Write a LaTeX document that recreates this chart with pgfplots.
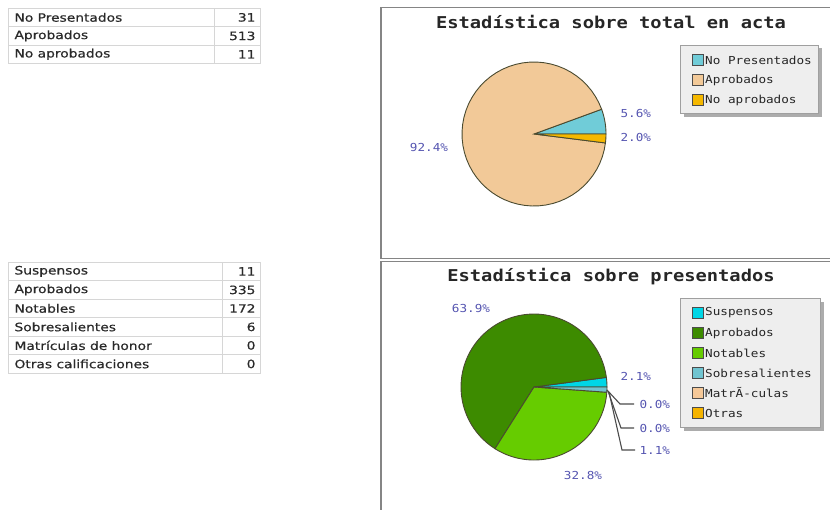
\documentclass[border=0pt]{standalone}
\usepackage{pgfplots}
\pgfplotsset{compat=1.18}
\usepackage{pgfplotstable}
\usepackage{fontspec}
\setmainfont{DejaVu Sans}
\newfontfamily\tabfont{DejaVu Sans}[FakeStretch=1.2, FakeBold=0.6]
\newfontfamily\chartmono{DejaVu Sans Mono}[FakeStretch=1.15]

\definecolor{cNP}{HTML}{70CCD8}
\definecolor{cAP}{HTML}{F2C998}
\definecolor{cNA}{HTML}{F5B800}
\definecolor{cSU}{HTML}{00D6E6}
\definecolor{cAPB}{HTML}{3D8B00}
\definecolor{cNO}{HTML}{66CC00}
\definecolor{cSO}{HTML}{70C4D0}
\definecolor{cMH}{HTML}{F5C898}
\definecolor{cOT}{HTML}{F5B400}
\definecolor{lbl}{HTML}{5454B0}
\definecolor{framec}{HTML}{858585}
\definecolor{tabline}{HTML}{D6D6D6}
\definecolor{tabtext}{HTML}{2A2A2A}
\definecolor{pieedge}{HTML}{4A4A30}

\pgfplotstableread{
cat value
NoPresentados 31
Aprobados 513
NoAprobados 11
}\totaltable
\pgfplotstableread{
cat value
Suspensos 11
Aprobados 335
Notables 172
Sobresalientes 6
Matriculas 0
Otras 0
}\prestable

\newcommand\pieWedge[4]{%
  \addplot[fill=#1, draw=pieedge, line width=0.9pt, domain=#2:#3, samples=60, variable=\t]
    ({#4*cos(\t)},{#4*sin(\t)}) -- (axis cs:0,0) -- cycle;}

\begin{document}
\begin{tikzpicture}
% ---- data to angles
\pgfplotstablegetelem{0}{value}\of\totaltable \let\tA\pgfplotsretval
\pgfplotstablegetelem{1}{value}\of\totaltable \let\tB\pgfplotsretval
\pgfplotstablegetelem{2}{value}\of\totaltable \let\tC\pgfplotsretval
\pgfmathsetmacro\tT{\tA+\tB+\tC}
\pgfmathsetmacro\taA{(\tA/\tT)*360}
\pgfmathsetmacro\taB{\taA+(\tB/\tT)*360}
\pgfplotstablegetelem{0}{value}\of\prestable \let\pA\pgfplotsretval
\pgfplotstablegetelem{1}{value}\of\prestable \let\pB\pgfplotsretval
\pgfplotstablegetelem{2}{value}\of\prestable \let\pC\pgfplotsretval
\pgfplotstablegetelem{3}{value}\of\prestable \let\pD\pgfplotsretval
\pgfmathsetmacro\pT{\pA+\pB+\pC+\pD}
\pgfmathsetmacro\paA{(\pA/\pT)*360}
\pgfmathsetmacro\paB{\paA+(\pB/\pT)*360}
\pgfmathsetmacro\paC{\paB+(\pC/\pT)*360}

\begin{scope}[x=1pt,y=-1pt]
\path[use as bounding box] (0,0) rectangle (830,509);
% ---- tables
\begin{scope}[font=\tabfont\fontsize{11.5}{13}\selectfont, text=tabtext]
\draw[tabline, line width=0.7pt] (8,8) rectangle (260,63);
\draw[tabline, line width=0.7pt] (8,26.5) -- (260,26.5) (8,45) -- (260,45) (214,8) -- (214,63);
\node[anchor=west] at (11,17.4) {No Presentados};
\node[anchor=east] at (259,17.4) {31};
\node[anchor=west] at (11,35.9) {Aprobados};
\node[anchor=east] at (259,35.9) {513};
\node[anchor=west] at (11,54.3) {No aprobados};
\node[anchor=east] at (259,54.3) {11};

\draw[tabline, line width=0.7pt] (8,262) rectangle (260,373);
\foreach \yy in {280.5,299,317.5,336,354.5} \draw[tabline, line width=0.7pt] (8,\yy) -- (260,\yy);
\draw[tabline, line width=0.7pt] (222,262) -- (222,373);
\node[anchor=west] at (11,271.4) {Suspensos};
\node[anchor=east] at (259,271.4) {11};
\node[anchor=west] at (11,289.9) {Aprobados};
\node[anchor=east] at (259,289.9) {335};
\node[anchor=west] at (11,308.4) {Notables};
\node[anchor=east] at (259,308.4) {172};
\node[anchor=west] at (11,326.9) {Sobresalientes};
\node[anchor=east] at (259,326.9) {6};
\node[anchor=west] at (11,345.4) {Matrículas de honor};
\node[anchor=east] at (259,345.4) {0};
\node[anchor=west] at (11,363.9) {Otras calificaciones};
\node[anchor=east] at (259,363.9) {0};
\end{scope}
% ---- frames
\draw[framec, line width=1.8pt] (381,7.5) rectangle (845,258.5);
\draw[framec, line width=1.8pt] (381,261.5) rectangle (845,530);
% ---- titles
\node[font=\chartmono\bfseries\fontsize{16.3}{18}\selectfont, text=black!85] at (611,22) {Estadística sobre total en acta};
\node[font=\chartmono\bfseries\fontsize{16.3}{18}\selectfont, text=black!85] at (611,277) {Estadística sobre presentados};
% ---- legend 1
\fill[gray!65] (684,48) rectangle (822,117);
\filldraw[fill=gray!13, draw=gray!75, line width=1pt] (680,45) rectangle (818,113);
\begin{scope}[font=\chartmono\fontsize{11}{13}\selectfont, text=black!85]
\foreach \c/\yy/\tx in {cNP/60/No Presentados, cAP/80/Aprobados, cNA/100/No aprobados}{
  \filldraw[fill=\c, draw=black!70, line width=0.8pt] (692,\yy-5.5) rectangle (703,\yy+5.5);
  \node[anchor=west, inner sep=0pt] at (705,\yy) {\tx};
}
\end{scope}
% ---- legend 2
\fill[gray!65] (684,302) rectangle (824,431);
\filldraw[fill=gray!13, draw=gray!75, line width=1pt] (680,298) rectangle (820,427);
\begin{scope}[font=\chartmono\fontsize{11}{13}\selectfont, text=black!85]
\foreach \c/\yy/\tx in {cSU/313/Suspensos, cAPB/333/Aprobados, cNO/353/Notables, cSO/373/Sobresalientes, cMH/393/MatrÃ-culas, cOT/413/Otras}{
  \filldraw[fill=\c, draw=black!70, line width=0.8pt] (692,\yy-5.5) rectangle (703,\yy+5.5);
  \node[anchor=west, inner sep=0pt] at (705,\yy) {\tx};
}
\end{scope}
\end{scope}

% ---- pie 1
\begin{axis}[at={(534pt,-134pt)}, anchor=origin, hide axis, clip=false,
  x=1pt, y=1pt, xmin=-140, xmax=140, ymin=-110, ymax=110]
\pieWedge{cNP}{0}{\taA}{72}
\pieWedge{cAP}{\taA}{\taB}{72}
\pieWedge{cNA}{\taB}{360}{72}
\node[anchor=west, text=lbl, font=\chartmono\fontsize{11}{13}\selectfont] at (axis cs:83,21) {5.6\%};
\node[anchor=west, text=lbl, font=\chartmono\fontsize{11}{13}\selectfont] at (axis cs:83,-3) {2.0\%};
\node[text=lbl, font=\chartmono\fontsize{11}{13}\selectfont] at (axis cs:-105,-13) {92.4\%};
\end{axis}

% ---- pie 2
\begin{axis}[at={(534pt,-387pt)}, anchor=origin, hide axis, clip=false,
  x=1pt, y=1pt, xmin=-140, xmax=140, ymin=-110, ymax=110]
\pieWedge{cSU}{0}{\paA}{73}
\pieWedge{cAPB}{\paA}{\paB}{73}
\pieWedge{cNO}{\paB}{\paC}{73}
\pieWedge{cSO}{\paC}{360}{73}
\draw[black!70, line width=1.1pt] (axis cs:73,-3) -- (axis cs:86,-17) -- (axis cs:100,-17);
\draw[black!70, line width=1.1pt] (axis cs:74,-4) -- (axis cs:87,-41) -- (axis cs:100,-41);
\draw[black!70, line width=1.1pt] (axis cs:75,-5) -- (axis cs:88,-63) -- (axis cs:101,-63);
\node[anchor=west, text=lbl, font=\chartmono\fontsize{11}{13}\selectfont] at (axis cs:83,11) {2.1\%};
\node[anchor=west, text=lbl, font=\chartmono\fontsize{11}{13}\selectfont] at (axis cs:102,-17) {0.0\%};
\node[anchor=west, text=lbl, font=\chartmono\fontsize{11}{13}\selectfont] at (axis cs:102,-41) {0.0\%};
\node[anchor=west, text=lbl, font=\chartmono\fontsize{11}{13}\selectfont] at (axis cs:102,-63) {1.1\%};
\node[text=lbl, font=\chartmono\fontsize{11}{13}\selectfont] at (axis cs:-63,79) {63.9\%};
\node[text=lbl, font=\chartmono\fontsize{11}{13}\selectfont] at (axis cs:49,-88) {32.8\%};
\end{axis}
\end{tikzpicture}
\end{document}
